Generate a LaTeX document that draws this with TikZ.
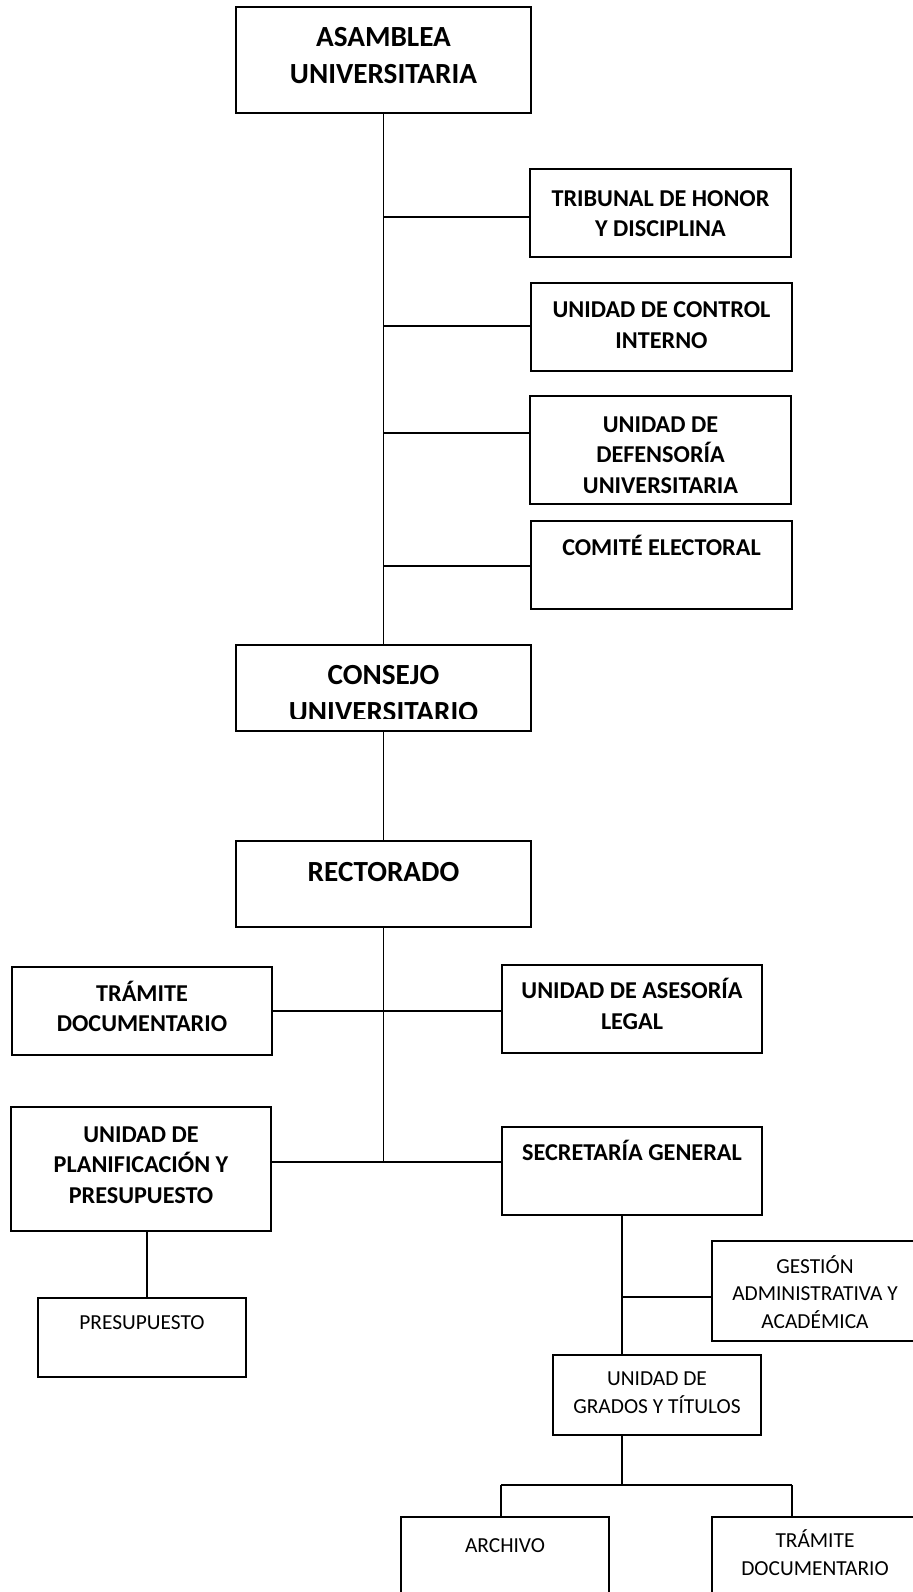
\documentclass[tikz,border=0pt]{standalone}
\usepackage{fontspec}
\setmainfont{Carlito}
\usetikzlibrary{calc}
\tikzset{
  orgbox/.style={draw, line width=0.65pt, inner sep=0pt, outer sep=0pt},
  conn/.style={line width=0.65pt},
  bigtxt/.style={font=\fontsize{14.6}{18.5}\selectfont\bfseries, align=center, anchor=base, inner sep=0pt},
  midtxt/.style={font=\fontsize{12.1}{15.25}\selectfont\bfseries, align=center, anchor=base, inner sep=0pt},
  smalltxt/.style={font=\fontsize{10.7}{13.75}\selectfont, align=center, anchor=base, inner sep=0pt}
}
\newcommand\mkbox[5]{\node[orgbox, minimum width={(#4-#2)*0.5pt}, minimum height={(#5-#3)*0.5pt}] (#1) at ({(#2+#4)/2},{(#3+#5)/2}) {};}
\begin{document}
\begin{tikzpicture}[x=0.5pt, y=-0.5pt]
\useasboundingbox (0,0) rectangle (912,1592);
% boxes
\mkbox{asam}{236}{7}{531}{113}
\mkbox{trib}{530}{169}{791}{257}
\mkbox{ctrl}{531}{283}{792}{371}
\mkbox{defe}{530}{396}{791}{504}
\mkbox{comi}{531}{521}{792}{609}
\mkbox{cons}{236}{645}{531}{731}
\mkbox{rect}{236}{841}{531}{927}
\mkbox{traL}{12}{967}{272}{1055}
\mkbox{ases}{502}{965}{762}{1053}
\mkbox{plan}{11}{1107}{271}{1231}
\mkbox{secr}{502}{1127}{762}{1215}
\mkbox{pres}{38}{1298}{246}{1377}
\mkbox{gest}{712}{1241}{918}{1341}
\mkbox{grad}{553}{1355}{761}{1435}
\mkbox{arch}{401}{1517}{609}{1630}
\mkbox{traB}{712}{1517}{918}{1630}
% texts (anchor = baseline of last line)
\node[bigtxt] (asamT) at (383.5,83.3) {ASAMBLEA\\UNIVERSITARIA};
\node[midtxt] (tribT) at (660.5,236.7) {TRIBUNAL DE HONOR\\Y DISCIPLINA};
\node[midtxt] (ctrlT) at (661.5,348.3) {UNIDAD DE CONTROL\\INTERNO};
\node[midtxt] (defeT) at (660.5,493.3) {UNIDAD DE\\DEFENSORÍA\\UNIVERSITARIA};
\node[midtxt] (comiT) at (661.5,555) {COMITÉ ELECTORAL};
\begin{scope}
\clip (cons.north west) rectangle ($(cons.south east)+(0,-13)$);
\node[bigtxt] (consT) at (383.5,721) {CONSEJO\\UNIVERSITARIO};
\end{scope}
\node[bigtxt] (rectT) at (383.5,881.7) {RECTORADO};
\node[midtxt] (traLT) at (142,1031.7) {TRÁMITE\\DOCUMENTARIO};
\node[midtxt] (asesT) at (632,1029.3) {UNIDAD DE ASESORÍA\\LEGAL};
\node[midtxt] (planT) at (141,1203.3) {UNIDAD DE\\PLANIFICACIÓN Y\\PRESUPUESTO};
\node[midtxt] (secrT) at (632,1160) {SECRETARÍA GENERAL};
\node[smalltxt] (presT) at (142,1329.3) {PRESUPUESTO};
\node[smalltxt] (gestT) at (815,1328.3) {GESTIÓN\\ADMINISTRATIVA Y\\ACADÉMICA};
\node[smalltxt] (gradT) at (657,1413.3) {UNIDAD DE\\GRADOS Y TÍTULOS};
\node[smalltxt] (archT) at (505,1552.7) {ARCHIVO};
\node[smalltxt] (traBT) at (815,1575) {TRÁMITE\\DOCUMENTARIO};
% connectors
\draw[conn] (asam.south) -- (cons.north);
\coordinate (b1) at (383.5,217);
\coordinate (b2) at (383.5,326);
\coordinate (b3) at (383.5,433);
\coordinate (b4) at (383.5,566);
\draw[conn] (b1) -- (b1 -| trib.west);
\draw[conn] (b2) -- (b2 -| ctrl.west);
\draw[conn] (b3) -- (b3 -| defe.west);
\draw[conn] (b4) -- (b4 -| comi.west);
\draw[conn] (cons.south) -- (rect.north);
\coordinate (r0) at (383.5,1011);
\coordinate (r1) at (383.5,1162);
\draw[conn] (rect.south) -- (r1);
\draw[conn] (r0 -| traL.east) -- (r0 -| ases.west);
\draw[conn] (r1 -| plan.east) -- (r1 -| secr.west);
\coordinate (px) at (147,1260);
\draw[conn] (plan.south -| px) -- (pres.north -| px);
\coordinate (sx) at (622,1297);
\draw[conn] (secr.south -| sx) -- (grad.north -| sx);
\draw[conn] (sx) -- (sx -| gest.west);
\coordinate (h) at (622,1485);
\coordinate (ha) at (501,1485);
\coordinate (hb) at (792,1485);
\draw[conn] (grad.south -| h) -- (h);
\draw[conn] (ha) -- (hb);
\draw[conn] (ha) -- (ha |- arch.north);
\draw[conn] (hb) -- (hb |- traB.north);
\end{tikzpicture}
\end{document}
